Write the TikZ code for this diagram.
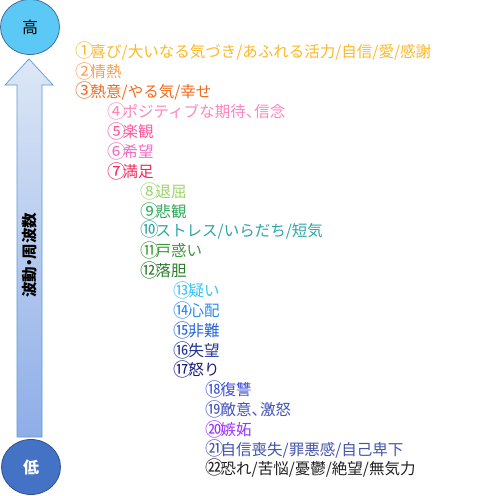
\documentclass[tikz,border=0pt]{standalone}
\usepackage{fontspec}
\usepackage{graphicx}
\usetikzlibrary{shapes.geometric}
\setmainfont{Noto Sans CJK JP}
\newcommand{\cnum}[1]{\makebox[1em][l]{\raisebox{-0.9pt}{\scalebox{1.2}{#1}}}}
\newcommand{\tcomma}{、\kern-7pt}
\definecolor{c1}{HTML}{FDB927}
\definecolor{c2}{HTML}{F7A04D}
\definecolor{c3}{HTML}{F26B1D}
\definecolor{c4}{HTML}{FF85C0}
\definecolor{c5}{HTML}{F85A9E}
\definecolor{c6}{HTML}{F06CC4}
\definecolor{c7}{HTML}{F0295A}
\definecolor{c8}{HTML}{9ED46A}
\definecolor{c9}{HTML}{2DAA5A}
\definecolor{c10}{HTML}{2FA5A8}
\definecolor{c11}{HTML}{3A9A3A}
\definecolor{c12}{HTML}{2B7A2B}
\definecolor{c13}{HTML}{38C5F5}
\definecolor{c14}{HTML}{2A8AF0}
\definecolor{c15}{HTML}{2266DD}
\definecolor{c16}{HTML}{223399}
\definecolor{c17}{HTML}{1A1A80}
\definecolor{c18}{HTML}{3F51D6}
\definecolor{c19}{HTML}{4455BB}
\definecolor{c20}{HTML}{9933FF}
\definecolor{c21}{HTML}{4455AA}
\definecolor{c22}{HTML}{222222}
\definecolor{topfill}{HTML}{5BC8F5}
\definecolor{topedge}{HTML}{41719C}
\definecolor{botfill}{HTML}{4472C4}
\definecolor{botedge}{HTML}{2F528F}
\definecolor{arrtop}{HTML}{DDE7F6}
\definecolor{arrbot}{HTML}{8EAEE8}
\definecolor{arredge}{HTML}{5B9BD5}
\begin{document}
\begin{tikzpicture}[x=1pt,y=-1pt,
  lvl/.style={anchor=west,inner sep=0pt,font=\fontsize{15.5}{16}\selectfont}]
\useasboundingbox[fill=white] (0,0) rectangle (500,495);
% arrow
\shade[top color=arrtop,bottom color=arrbot,draw=arredge,line width=0.7pt]
  (29,59) -- (53,85) -- (42,85) -- (42,437) -- (17,437) -- (17,85) -- (5,85) -- cycle;
\node[rotate=90,inner sep=0pt,font=\fontsize{15.5}{16}\selectfont\bfseries] (axis) at (30,255) {波動\kern-4pt・\kern-4pt周波数};
% end circles
\node[draw=topedge,fill=topfill,ellipse,minimum width=59pt,minimum height=55pt,inner sep=0pt,line width=0.8pt,font=\fontsize{16}{18}\selectfont] (hi) at (30,27) {高};
\node[draw=botedge,fill=botfill,ellipse,minimum width=59pt,minimum height=55pt,inner sep=0pt,line width=0.8pt,text=white,font=\fontsize{16}{18}\selectfont\bfseries] (lo) at (31,467) {低};
% levels
\node[lvl,text=c1] (l1) at (75,51) {\cnum{①}喜び/大いなる気づき/あふれる活力/自信/愛/感謝};
\node[lvl,text=c2] (l2) at (75,71) {\cnum{②}情熱};
\node[lvl,text=c3] (l3) at (75,91) {\cnum{③}熱意/やる気/幸せ};
\node[lvl,text=c4] (l4) at (107,111) {\cnum{④}ポジティブな期待\tcomma 信念};
\node[lvl,text=c5] (l5) at (107,131) {\cnum{⑤}楽観};
\node[lvl,text=c6] (l6) at (107,151) {\cnum{⑥}希望};
\node[lvl,text=c7] (l7) at (107,171) {\cnum{⑦}満足};
\node[lvl,text=c8] (l8) at (140,191) {\cnum{⑧}退屈};
\node[lvl,text=c9] (l9) at (140,211) {\cnum{⑨}悲観};
\node[lvl,text=c10] (l10) at (140,230) {\cnum{⑩}ストレス/いらだち/短気};
\node[lvl,text=c11] (l11) at (140,250) {\cnum{⑪}戸惑い};
\node[lvl,text=c12] (l12) at (140,270) {\cnum{⑫}落胆};
\node[lvl,text=c13] (l13) at (173,290) {\cnum{⑬}疑い};
\node[lvl,text=c14] (l14) at (173,310) {\cnum{⑭}心配};
\node[lvl,text=c15] (l15) at (173,330) {\cnum{⑮}非難};
\node[lvl,text=c16] (l16) at (173,350) {\cnum{⑯}失望};
\node[lvl,text=c17] (l17) at (173,369) {\cnum{⑰}怒り};
\node[lvl,text=c18] (l18) at (205,389) {\cnum{⑱}復讐};
\node[lvl,text=c19] (l19) at (205,409) {\cnum{⑲}敵意\tcomma 激怒};
\node[lvl,text=c20] (l20) at (205,429) {\cnum{⑳}嫉妬};
\node[lvl,text=c21] (l21) at (205,449) {\cnum{㉑}自信喪失/罪悪感/自己卑下};
\node[lvl,text=c22] (l22) at (205,468) {\cnum{㉒}恐れ/苦悩/憂鬱/絶望/無気力};
\end{tikzpicture}
\end{document}
